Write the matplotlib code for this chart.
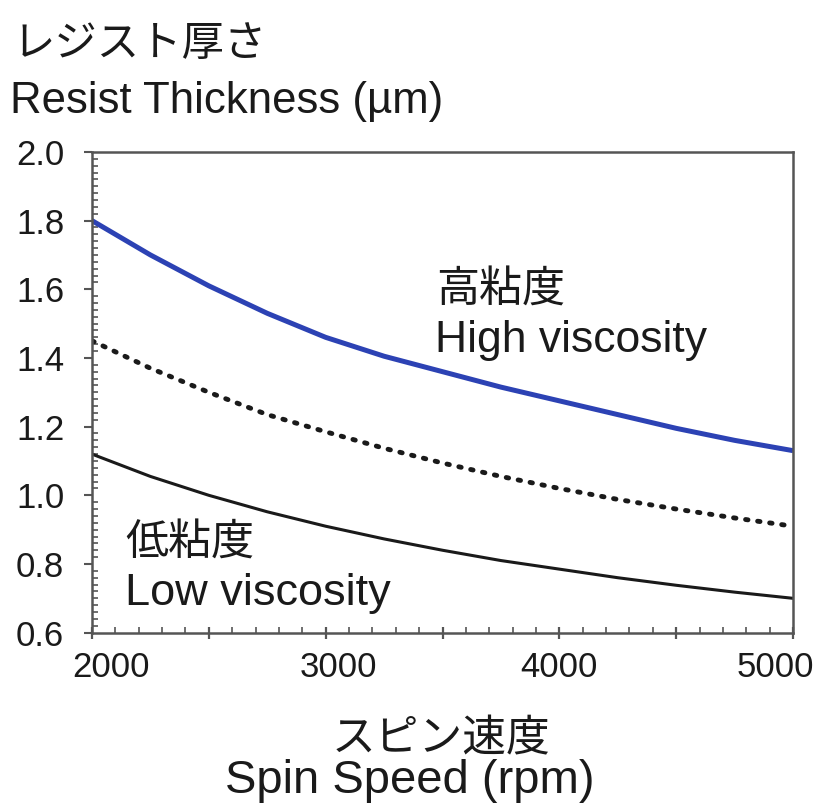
import matplotlib.pyplot as plt
import matplotlib.transforms as mtransforms
import numpy as np

plt.rcParams['font.family'] = ['Liberation Sans', 'Noto Sans CJK JP']

# spin speed (rpm) and resist thickness (um)
speed = [2000, 2250, 2500, 2750, 3000, 3250, 3500, 3750, 4000, 4250, 4500, 4750, 5000]
high = [1.80, 1.70, 1.61, 1.53, 1.46, 1.405, 1.36, 1.315, 1.275, 1.235, 1.195, 1.16, 1.13]
mid = [1.45, 1.37, 1.30, 1.235, 1.185, 1.137, 1.094, 1.055, 1.02, 0.988, 0.96, 0.934, 0.91]
low = [1.12, 1.055, 1.00, 0.952, 0.91, 0.873, 0.84, 0.81, 0.785, 0.76, 0.738, 0.718, 0.70]

xticks = [2000, 3000, 4000, 5000]
yticks = [0.6, 0.8, 1.0, 1.2, 1.4, 1.6, 1.8, 2.0]

fig = plt.figure(figsize=(8.21, 8.08), dpi=100)
ax = fig.add_axes([0.112, 0.217, 0.854, 0.595])

ax.plot(speed, high, color='#2c42b4', lw=3.6, solid_capstyle='butt')
ax.plot(speed, mid, color='#1a1a1a', lw=3.5, linestyle=(0, (0.5, 2.0)),
        dash_capstyle='round')
ax.plot(speed, low, color='#1a1a1a', lw=2.2)

ax.set_xlim(2000, 5000)
ax.set_ylim(0.6, 2.0)
ax.set_xticks(np.arange(2000, 5001, 500))
ax.set_xticklabels([str(v) if v in xticks else '' for v in range(2000, 5001, 500)])
ax.set_yticks(yticks)
ax.set_yticklabels(['%.1f' % v for v in yticks])
ax.set_xticks(np.arange(2000, 5001, 100), minor=True)
ax.set_yticks(np.arange(0.6, 2.001, 0.02), minor=True)

for s in ax.spines.values():
    s.set_color('#555555')
    s.set_linewidth(1.8)
ax.tick_params(axis='x', which='major', direction='inout', length=9, width=1.6,
               color='#555555', labelsize=25, pad=9, labelcolor='#1a1a1a')
ax.tick_params(axis='y', which='major', direction='out', length=6, width=1.5,
               color='#555555', labelsize=25, pad=14, labelcolor='#1a1a1a')
ax.tick_params(axis='both', which='minor', direction='in', length=4, width=1.2,
               color='#555555')

# x labels in the source are not quite centred on their ticks
shifts = {0: 0.19, 2: 0.13, 4: 0.0, 6: -0.18}
labels = ax.get_xticklabels()
for i, dx in shifts.items():
    labels[i].set_transform(labels[i].get_transform() +
                            mtransforms.ScaledTranslation(dx, 0, fig.dpi_scale_trans))

def px(x, y):
    return x / 821, 1 - y / 808

c = '#1a1a1a'
fig.text(*px(13, 45), 'レジスト厚さ', fontsize=30.5, color=c, va='center')
fig.text(*px(10, 113), 'Resist Thickness (µm)', fontsize=31.5, color=c,
         va='baseline')
fig.text(*px(436, 292), '高粘度', fontsize=31, color=c, va='center')
fig.text(*px(435, 352), 'High viscosity', fontsize=32, color=c, va='baseline')
fig.text(*px(125, 545), '低粘度', fontsize=31, color=c, va='center')
fig.text(*px(125, 605), 'Low viscosity', fontsize=32.5, color=c, va='baseline')
fig.text(*px(441, 740), 'スピン速度', fontsize=31.5, color=c,
         va='center', ha='center')
fig.text(*px(410, 793), 'Spin Speed (rpm)', fontsize=34, color=c,
         va='baseline', ha='center')

fig.savefig('out.png', dpi=100)
